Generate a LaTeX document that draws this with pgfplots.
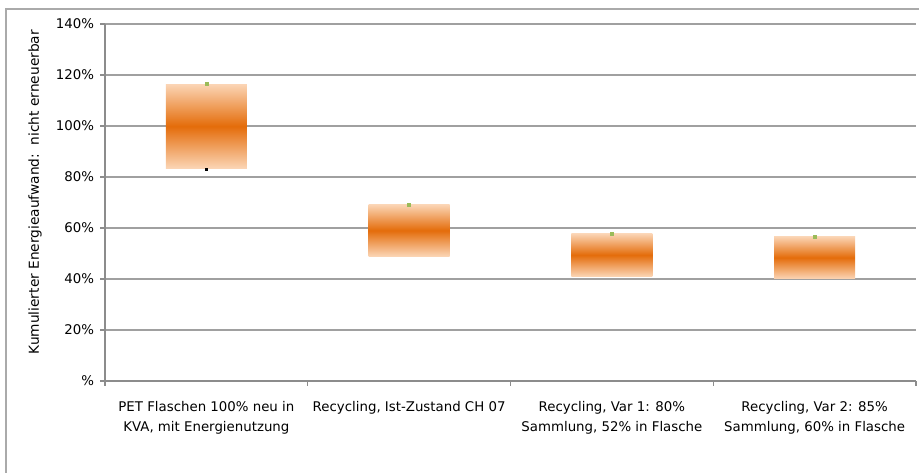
\documentclass[border=0pt]{standalone}
\usepackage{pgfplots}
\pgfplotsset{compat=1.18}
\usepackage{fontspec}
\setmainfont{DejaVu Sans}

\definecolor{peach}{RGB}{251,213,181}
\definecolor{barorange}{RGB}{228,108,10}
\definecolor{gridgray}{RGB}{160,160,160}
\definecolor{axisgray}{RGB}{140,140,140}
\definecolor{framegray}{RGB}{170,170,170}
\definecolor{markgreen}{RGB}{155,187,89}

\pgfplotsset{
  energybox/.style={draw=none, shade, top color=peach, bottom color=peach,
                    middle color=barorange, forget plot},
}

\begin{document}
\begin{tikzpicture}
\useasboundingbox (0pt,0pt) rectangle (689.25pt,354.75pt);
% chart frame
\draw[framegray, line width=0.9pt] (4.5pt,-10pt) -- (4.5pt,348pt) -- (700pt,348pt);
\begin{axis}[
  at={(78.75pt,69pt)}, anchor=south west,
  scale only axis,
  width=608.25pt, height=267.75pt,
  xmin=-0.5, xmax=3.5,
  ymin=0, ymax=140,
  axis lines*=left,
  axis line style={axisgray, line width=1.3pt},
  ytick={0,20,...,140},
  yticklabels={\%,20\%,40\%,60\%,80\%,100\%,120\%,140\%},
  xtick={0,1,2,3},
  xticklabels={{PET Flaschen 100\% neu in\\KVA, mit Energienutzung},
               {Recycling, Ist-Zustand CH 07},
               {Recycling, Var 1: 80\%\\Sammlung, 52\% in Flasche},
               {Recycling, Var 2: 85\%\\Sammlung, 60\% in Flasche}},
  minor xtick={-0.5,0.5,1.5,2.5,3.5},
  tick align=outside,
  major tick length=3.75pt,
  minor tick length=3.75pt,
  xtick style={draw=none},
  minor x tick style={draw=axisgray, line width=0.8pt},
  ytick style={draw=axisgray, line width=0.8pt},
  ymajorgrids,
  major grid style={gridgray, line width=1.1pt},
  tick label style={font=\fontsize{10}{15}\selectfont, text=black},
  xticklabel style={align=center, yshift=-7.75pt},
  yticklabel style={xshift=-1pt},
  ylabel={Kumulierter Energieaufwand:\ \ nicht erneuerbar},
  ylabel style={font=\fontsize{10.3}{12}\selectfont, at={(axis description cs:-0.0863,0.529)}, anchor=center},
  clip=false,
]
% boxes: low to high of each scenario
\addplot[energybox] coordinates {(-0.2,83.4) (0.2,83.4) (0.2,116.4) (-0.2,116.4)};
\addplot[energybox] coordinates {(0.8,48.9) (1.2,48.9) (1.2,69.2) (0.8,69.2)};
\addplot[energybox] coordinates {(1.8,41.0) (2.2,41.0) (2.2,57.8) (1.8,57.8)};
\addplot[energybox] coordinates {(2.8,40.1) (3.2,40.1) (3.2,56.7) (2.8,56.7)};
% markers at the high values
\addplot[only marks, mark=square*, mark size=1.1pt, markgreen]
  coordinates {(0,116.4) (1,69.2) (2,57.8) (3,56.7)};
\addplot[only marks, mark=square*, mark size=0.8pt, black]
  coordinates {(0,83.0)};
\end{axis}
\end{tikzpicture}
\end{document}
